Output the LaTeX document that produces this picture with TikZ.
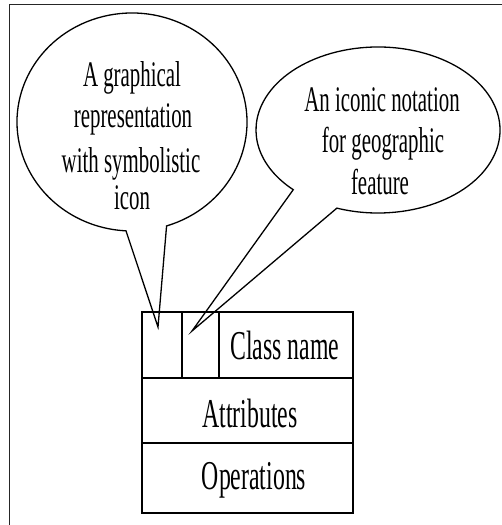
\documentclass[tikz,border=0pt]{standalone}
\usepackage{fontspec}
\setmainfont[FakeStretch=0.58]{Liberation Serif}
\usetikzlibrary{calc}
\begin{document}
\begin{tikzpicture}[x=1pt,y=1pt,
  frame/.style={line width=1pt, black!85},
  bubble/.style={line width=1.3pt, line join=miter},
  cell/.style={line width=1.6pt},
  bubbletext/.style={font=\fontsize{36}{36}\selectfont, anchor=base, inner sep=0pt},
  celltext/.style={font=\fontsize{41}{41}\selectfont, anchor=base, inner sep=0pt}]
\useasboundingbox (0,0) rectangle (502,525);

% open frame: top and left edges only
\draw[frame] (9.5,0) -- (9.5,520) -- (502,520);

% class symbol: icon cells, class name, attributes, operations
\draw[cell] (142,12) rectangle (353,213);
\draw[cell] (142,147) -- (353,147);
\draw[cell] (142,82) -- (353,82);
\draw[cell] (182,147) -- (182,213);
\draw[cell] (219,147) -- (219,213);
\node[celltext] (cname) at (285,165) {Class name};
\node[celltext] (attrs) at (250,97) {Attributes};
\node[celltext] (ops) at (254,35) {Operations};

% pointer tips inside the two icon cells
\coordinate (tipA) at (158,198);
\coordinate (tipB) at (192,194);

% left callout
\draw[bubble] ($(132,403)+(287.5:115 and 109)$)
  arc[start angle=287.5, end angle=627, x radius=115, y radius=109]
  -- (tipA) -- cycle;
\node[bubbletext] (l1) at (132,438) {A graphical};
\node[bubbletext] (l2) at (133,397) {representation};
\node[bubbletext] (l3) at (131,352) {with symbolistic};
\node[bubbletext] (l4) at (132,315) {icon};

% right callout
\draw[bubble] ($(378,395)+(250.3:122 and 83)$)
  arc[start angle=250.3, end angle=586, x radius=122, y radius=83]
  -- (tipB) -- cycle;
\node[bubbletext] (r1) at (382,413) {An iconic notation};
\node[bubbletext] (r2) at (383,372) {for geographic};
\node[bubbletext] (r3) at (380,330) {feature};
\end{tikzpicture}
\end{document}
